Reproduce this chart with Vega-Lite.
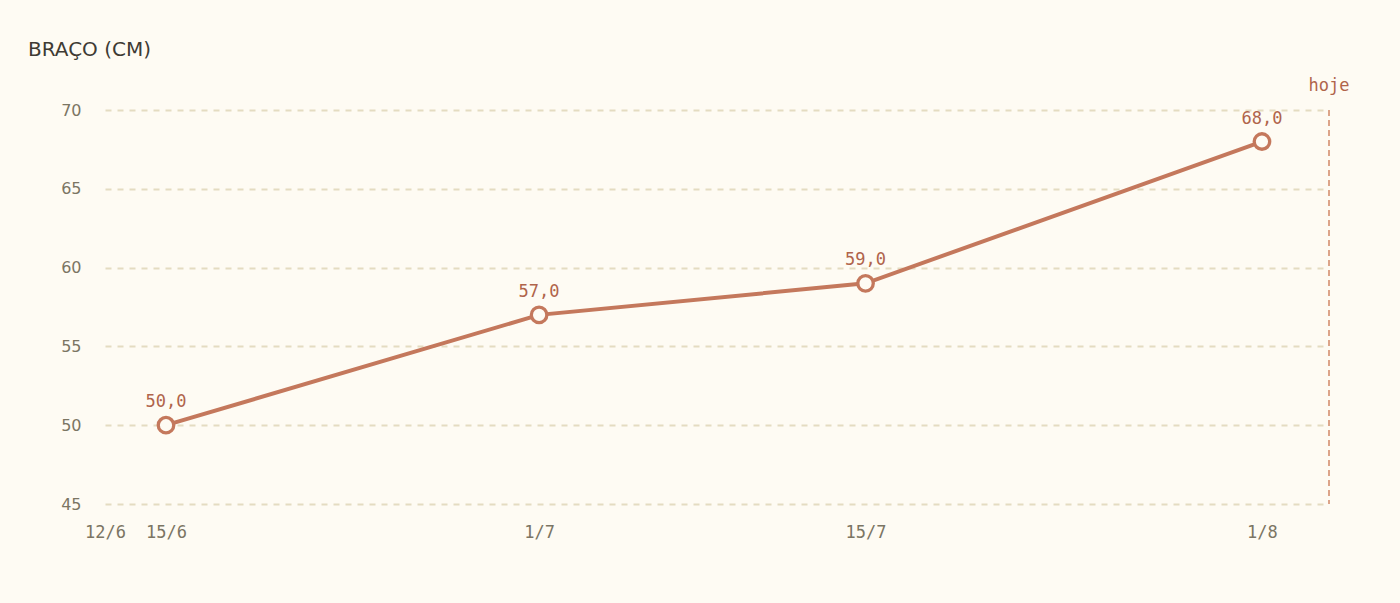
{
  "$schema": "https://vega.github.io/schema/vega-lite/v6.json",
  "autosize": "none",
  "width": 1224,
  "height": 394,
  "padding": {"left": 105, "top": 110, "right": 71, "bottom": 99},
  "background": "#fefbf3",
  "config": {"view": {"stroke": null}},
  "title": {
    "text": "BRAÇO (CM)",
    "anchor": "start",
    "frame": "group",
    "dx": -77,
    "offset": 17,
    "font": "DejaVu Sans",
    "fontSize": 20,
    "fontWeight": "normal",
    "color": "#3f3b34"
  },
  "datasets": {
    "medidas": [
      {"data": "2025-06-15T00:00:00Z", "braco": 50},
      {"data": "2025-07-01T00:00:00Z", "braco": 57},
      {"data": "2025-07-15T00:00:00Z", "braco": 59},
      {"data": "2025-08-01T00:00:00Z", "braco": 68}
    ],
    "hoje": [
      {"data": "2025-08-03T21:00:00Z", "rotulo": "hoje", "topo": 70}
    ]
  },
  "layer": [
    {
      "data": {"name": "medidas"},
      "mark": {"type": "line", "color": "#c4785c", "strokeWidth": 4},
      "encoding": {
        "x": {
          "field": "data",
          "type": "temporal",
          "scale": {
            "type": "utc",
            "domain": [
              {"year": 2025, "month": 6, "date": 12, "hours": 9, "minutes": 13, "utc": true},
              {"year": 2025, "month": 8, "date": 3, "hours": 21, "utc": true}
            ]
          },
          "axis": {
            "title": null,
            "values": [
              {"year": 2025, "month": 6, "date": 12, "hours": 9, "minutes": 13, "utc": true},
              {"year": 2025, "month": 6, "date": 15, "utc": true},
              {"year": 2025, "month": 7, "date": 1, "utc": true},
              {"year": 2025, "month": 7, "date": 15, "utc": true},
              {"year": 2025, "month": 8, "date": 1, "utc": true}
            ],
            "format": "%-d/%-m",
            "grid": false,
            "domain": false,
            "ticks": false,
            "labelFlush": false,
            "labelOverlap": false,
            "labelPadding": 20,
            "labelFont": "DejaVu Sans Mono",
            "labelFontSize": 17,
            "labelColor": "#7b7563"
          }
        },
        "y": {
          "field": "braco",
          "type": "quantitative",
          "scale": {"domain": [45, 70], "nice": false, "zero": false},
          "axis": {
            "title": null,
            "values": [45, 50, 55, 60, 65, 70],
            "domain": false,
            "ticks": false,
            "labelPadding": 24,
            "labelFont": "DejaVu Sans",
            "labelFontSize": 16,
            "labelColor": "#7b7563",
            "gridColor": "#e4dcc1",
            "gridDash": [6, 6],
            "gridWidth": 2
          }
        }
      }
    },
    {
      "data": {"name": "medidas"},
      "mark": {"type": "point", "filled": true, "fill": "#fefbf3", "stroke": "#c4785c", "strokeWidth": 3.3, "size": 240, "opacity": 1},
      "encoding": {
        "x": {"field": "data", "type": "temporal"},
        "y": {"field": "braco", "type": "quantitative"}
      }
    },
    {
      "data": {"name": "medidas"},
      "transform": [
        {"calculate": "replace(format(datum.braco, '.1f'), '.', ',')", "as": "rotulo"}
      ],
      "mark": {"type": "text", "dy": -18, "baseline": "alphabetic", "font": "DejaVu Sans Mono", "fontSize": 17, "color": "#b0644b"},
      "encoding": {
        "x": {"field": "data", "type": "temporal"},
        "y": {"field": "braco", "type": "quantitative"},
        "text": {"field": "rotulo"}
      }
    },
    {
      "data": {"name": "hoje"},
      "mark": {"type": "rule", "color": "#dca489", "strokeWidth": 2, "strokeDash": [6, 4]},
      "encoding": {
        "x": {"field": "data", "type": "temporal"}
      }
    },
    {
      "data": {"name": "hoje"},
      "mark": {"type": "text", "dy": -19, "baseline": "alphabetic", "font": "DejaVu Sans Mono", "fontSize": 17, "color": "#b0644b"},
      "encoding": {
        "x": {"field": "data", "type": "temporal"},
        "y": {"field": "topo", "type": "quantitative"},
        "text": {"field": "rotulo"}
      }
    }
  ]
}
